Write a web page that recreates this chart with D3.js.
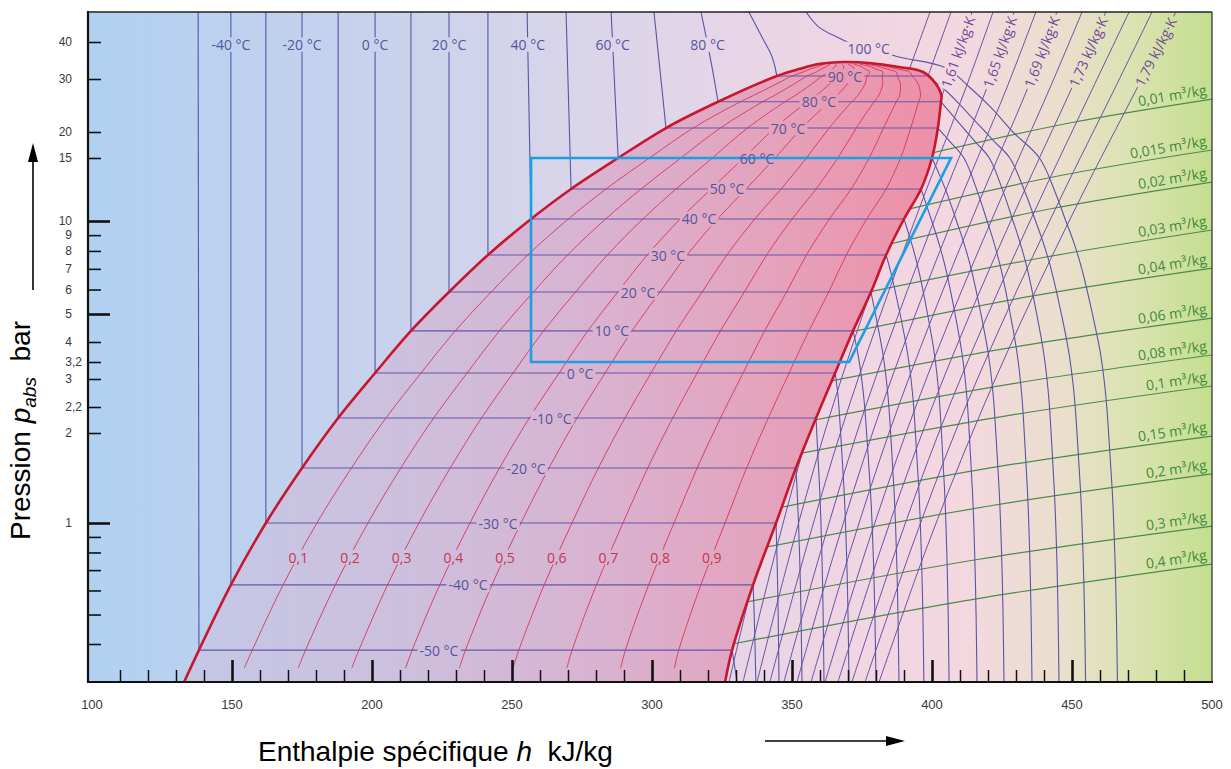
<!DOCTYPE html>
<html><head><meta charset="utf-8">
<script src="https://cdn.jsdelivr.net/npm/d3@7/dist/d3.min.js"></script>
<style>body{margin:0;background:#fff}svg{display:block}</style>
</head><body>
<svg id="chart" width="1231" height="769"></svg>
<script>
// ---------------- DATA ----------------
const enthalpyLabels = [100,150,200,250,300,350,400,450,500];
const enthalpyMajor = [150,200,250,300,350,400,450];
const pressureLabelTicks = [1,2,2.2,3,3.2,4,5,6,7,8,9,10,15,20,30,40];
const pressureLabelText = ["1","2","2,2","3","3,2","4","5","6","7","8","9","10","15","20","30","40"];
const pressureMinorTicks = [0.4,0.5,0.6,0.7,0.8,0.9];
const pressureMajorTicks = [1,5,10];

const satTemps = [-50,-40,-30,-20,-10,0,10,20,30,40,50,60,70,80,90];
const satPressure = [0.382,0.626,1.0,1.527,2.113,3.069,4.37,5.89,7.76,10.13,12.29,15.0,20.62,25.2,30.7];
const satLiquidH = [138.2,149.6,162.1,175.0,187.9,201.1,213.9,227.5,241.4,256.8,271.1,287.9,305.0,323.6,344.6];
const satVaporH = [328.6,336.1,344.3,351.4,358.6,365.4,371.8,378.2,383.6,390.0,396.1,400.0,402.1,403.2,397.9];
const domeLabelH = [223.9,234.3,245.0,255.0,264.3,274.3,285.7,295.0,305.7,316.8,326.8,337.5,348.6,359.6,368.9];

// liquid-side isotherm points above the saturated-liquid point [h, p]
const liquidIsothermUpper = [
 [[137.9,50]],[[149.6,50]],[[162.1,50]],[[175.0,50]],[[187.9,50]],[[201.1,50]],[[213.9,50]],
 [[227.5,50]],[[241.4,50]],[[255.4,50]],[[269.3,50]],[[285.4,50]],[[300.7,50]],
 [[317.5,50],[321.1,34.2]],
 [[334.6,50],[338.9,42.1],[342.9,35.6]]
];

// saturation dome [h, p]
const domeLiquid = [[132.9,0.3],[138.2,0.382],[149.6,0.626],[162.1,1.0],[175.0,1.527],[187.9,2.113],[201.1,3.069],[213.9,4.37],[227.5,5.89],[241.4,7.76],[256.8,10.13],[271.1,12.29],[287.9,15.0],[305.0,20.62],[323.6,25.2],[344.6,30.7],[352.5,32.4],[359.6,33.7]];
const criticalPoint = [368.6,34.24];
const domeVapor = [[326.1,0.3],[328.6,0.382],[336.1,0.626],[344.3,1.0],[351.4,1.527],[358.6,2.113],[365.4,3.069],[371.8,4.37],[378.2,5.89],[383.6,7.76],[390.0,10.13],[396.1,12.29],[400.0,15.0],[402.1,20.62],[403.2,25.2],[403.4,26.34],[401.4,28.87],[396.8,31.68],[388.2,32.93],[377.5,33.98]];

// superheated isotherms [T, [[h,p],...]]
const superheatIsotherms = [
 [-50,[[328.6,0.382],[330.4,0.3]]],
 [-40,[[336.1,0.626],[336.5,0.5],[337.1,0.3]]],
 [-30,[[344.3,1.0],[344.75,0.7],[345.06,0.5],[345.36,0.3]]],
 [-20,[[351.4,1.527],[351.8,1.3],[352.33,1.0],[352.86,0.7],[353.22,0.5],[353.57,0.3]]],
 [-10,[[358.6,2.113],[359.09,1.8],[359.87,1.3],[360.34,1.0],[360.81,0.7],[361.12,0.5],[361.43,0.3]]],
 [0,[[365.4,3.069],[366.42,2.5],[367.67,1.8],[368.57,1.3],[369.11,1.0],[369.65,0.7],[370.0,0.5],[370.36,0.3]]],
 [10,[[371.8,4.37],[373.55,3.5],[375.57,2.5],[376.98,1.8],[377.98,1.3],[378.59,1.0],[379.19,0.7],[379.59,0.5],[380.0,0.3]]],
 [20,[[378.2,5.89],[379.79,5],[382.48,3.5],[384.27,2.5],[385.52,1.8],[386.41,1.3],[386.95,1.0],[387.49,0.7],[387.85,0.5],[388.2,0.3]]],
 [30,[[383.6,7.76],[384.97,7],[388.6,5],[391.31,3.5],[393.12,2.5],[394.38,1.8],[395.29,1.3],[395.83,1.0],[396.37,0.7],[396.74,0.5],[397.1,0.3]]],
 [40,[[390.0,10.13],[392.67,8.5],[395.13,7],[398.41,5],[400.86,3.5],[402.5,2.5],[403.65,1.8],[404.47,1.3],[404.96,1.0],[405.45,0.7],[405.78,0.5],[406.1,0.3]]],
 [50,[[396.1,12.29],[399.91,10],[402.41,8.5],[404.91,7],[408.24,5],[410.74,3.5],[412.41,2.5],[413.57,1.8],[414.4,1.3],[414.9,1.0],[415.4,0.7],[415.74,0.5],[416.07,0.3]]],
 [60,[[400.0,15],[402.6,13.5],[405.25,12],[408.75,10],[411.37,8.5],[413.99,7],[417.49,5],[420.12,3.5],[421.87,2.5],[423.09,1.8],[423.97,1.3],[424.49,1.0],[425.02,0.7],[425.37,0.5],[425.71,0.3]]],
 [70,[[402.1,20.62],[406.43,18],[411.4,15],[416.36,12],[419.67,10],[422.15,8.5],[424.63,7],[427.94,5],[430.42,3.5],[432.07,2.5],[433.23,1.8],[434.06,1.3],[434.56,1.0],[435.05,0.7],[435.38,0.5],[435.71,0.3]]],
 [80,[[403.2,25.2],[408.62,22],[415.39,18],[420.47,15],[425.55,12],[428.94,10],[431.48,8.5],[434.02,7],[437.4,5],[439.94,3.5],[441.64,2.5],[442.82,1.8],[443.67,1.3],[444.18,1.0],[444.69,0.7],[445.02,0.5],[445.36,0.3]]],
 [90,[[397.9,30.7],[403.87,28],[409.39,25],[414.91,22],[422.27,18],[427.79,15],[433.31,12],[436.99,10],[439.76,8.5],[442.52,7],[446.2,5],[448.96,3.5],[450.8,2.5],[452.09,1.8],[453.01,1.3],[453.56,1.0],[454.11,0.7],[454.48,0.5],[454.85,0.3]]]
];
const supercriticalIsotherm = [[355.0,50],[359.6,44.7],[366.8,41.2],[372.1,39.07],[388.2,35.6],[405.0,32.68],[413.7,28],[421.3,24],[428.9,20],[438.4,15],[444.05,12],[447.8,10],[450.7,8.5],[453.5,7],[457.3,5],[460.2,3.5],[462.06,2.5],[463.39,1.8],[464.34,1.3],[464.9,1.0],[465.47,0.7],[465.85,0.5],[466.23,0.3]];

const topLabelTemps = [-40,-20,0,20,40,60,80,100];
const topLabelP = [39.2,39.2,39.2,39.2,39.2,39.2,39.2,37.9];

// quality lines
const qualityValues = [0.1,0.2,0.3,0.4,0.5,0.6,0.7,0.8,0.9];
const qualityLabels = ["0,1","0,2","0,3","0,4","0,5","0,6","0,7","0,8","0,9"];
const qualityLabelP = 0.773;
const qualityBottomP = 0.333;
const qualityTopP = 33.7;

// isentropes
const isentropeS = [1.57,1.59,1.61,1.63,1.65,1.67,1.69,1.71,1.73,1.75,1.77,1.79];
const isentropeP = [0.3,0.815,2.022,4.766,11.45,27.58,50];
const isentropeH = [
 [327.5,338.8,350.1,361.9,375.8,389.3,399.3],
 [332.5,344.3,356.0,368.3,382.8,396.8,406.8],
 [337.5,349.7,361.9,374.6,389.7,404.3,414.3],
 [342.1,354.9,367.6,380.9,396.6,411.8,421.8],
 [347.1,360.4,373.5,387.3,403.6,419.3,429.3],
 [351.8,365.4,379.1,393.3,410.1,426.4,437.1],
 [356.8,370.9,385.0,399.7,417.1,433.9,444.6],
 [361.8,376.4,391.1,406.3,424.4,441.8,453.6],
 [366.4,381.6,396.9,412.7,431.5,449.6,462.1],
 [371.4,387.1,402.8,419.1,438.5,457.1,470.4],
 [376.1,392.4,408.6,425.5,445.6,465.0,478.6],
 [381.1,397.8,414.8,432.1,452.7,472.9,487.1]
];
const isentropeLabelS = [1.61,1.65,1.69,1.73,1.79];
const isentropeLabelText = ["1,61 kJ/kg·K","1,65 kJ/kg·K","1,69 kJ/kg·K","1,73 kJ/kg·K","1,79 kJ/kg·K"];
const isentropeLabelP = 37;

// isochores
const isochoreText = ["0,01","0,015","0,02","0,03","0,04","0,06","0,08","0,1","0,15","0,2","0,3","0,4"];
const isochorePoints = [
 [[398.4,15.68],[450,21.51],[500,25.74]],
 [[390.1,10.73],[445.9,13.40],[500,16.39]],
 [[383.4,8.36],[442.5,10.82],[500,12.85]],
 [[375.9,5.85],[438.8,7.59],[500,9.35]],
 [[369.4,4.30],[435.5,5.71],[500,7.04]],
 [[361.9,2.90],[431.8,3.83],[500,4.84]],
 [[356.2,2.09],[428.9,2.85],[500,3.46]],
 [[351.6,1.70],[426.6,2.13],[500,2.776]],
 [[344.4,1.12],[423.0,1.54],[500,1.954]],
 [[339.1,0.827],[420.4,1.14],[500,1.459]],
 [[331.9,0.546],[416.8,0.760],[500,0.977]],
 [[326.9,0.397],[414.3,0.560],[500,0.733]]
];

// refrigeration cycle
const cycleH = [256.8,406.8,370.4,256.8];
const cycleP = [15,15,3.2,3.2];

// ---------------- LAYOUT ----------------
const W = 1231, H = 769;
const plotLeft = 88, plotRight = 1212, plotTop = 12, plotBottom = 682;
const FONT = "'Open Sans', 'Noto Sans', sans-serif";

const xScale = d3.scaleLinear().domain([100,500]).range([92,1212]);
const yScale = d3.scaleLog()
  .domain([0.3,1,2,2.2,3,3.2,4,5,10,15,20,30,40,50])
  .range([682,523,433,407,379,362,342,314,221,158,132,79,42,12]);

const svg = d3.select('#chart');
const defs = svg.append('defs');

function grad(id, x1, x2, stops){
  const g = defs.append('linearGradient').attr('id',id).attr('gradientUnits','userSpaceOnUse')
    .attr('x1',x1).attr('x2',x2).attr('y1',0).attr('y2',0);
  stops.forEach(s => g.append('stop').attr('offset',s[0]).attr('stop-color',s[1]));
}
grad('bgGrad', plotLeft, plotRight, [[0,'#b1d1f1'],[0.15,'#bed1ee'],[0.33,'#cfd3eb'],[0.5,'#dfd5e9'],[0.68,'#f0d5e3'],[0.78,'#f3d8e0'],[0.86,'#ebdece'],[0.93,'#dbe3b1'],[1,'#c3de8e']]);
grad('domeGrad', 185, 945, [[0,'#c3c8e6'],[0.3,'#cdbfdd'],[0.55,'#d9b2d0'],[0.8,'#e6a0b9'],[1,'#ee8ea6']]);

defs.append('clipPath').attr('id','plotClip').append('rect')
  .attr('x',plotLeft).attr('y',plotTop).attr('width',plotRight-plotLeft).attr('height',plotBottom-plotTop);

const toPx = d => [xScale(d[0]), yScale(d[1])];
const curve = d3.line().curve(d3.curveCatmullRom.alpha(0.5));
const straight = d3.line();

function hAt(branch, p){
  for (let i=0;i<branch.length-1;i++){
    const a=branch[i], b=branch[i+1];
    if (p>=a[1] && p<=b[1]){
      const t=(Math.log(p)-Math.log(a[1]))/(Math.log(b[1])-Math.log(a[1]));
      return a[0]+t*(b[0]-a[0]);
    }
  }
  return null;
}
function pointAtY(pts, y){
  for (let i=0;i<pts.length-1;i++){
    const a=pts[i], b=pts[i+1];
    if ((a[1]-y)*(b[1]-y) <= 0 && a[1]!==b[1]){
      const t=(y-a[1])/(b[1]-a[1]);
      return {x:a[0]+t*(b[0]-a[0]), y:y, angle:Math.atan2(b[1]-a[1], b[0]-a[0])*180/Math.PI};
    }
  }
  return null;
}

// background
svg.append('rect').attr('x',plotLeft).attr('y',plotTop).attr('width',plotRight-plotLeft)
  .attr('height',plotBottom-plotTop).attr('fill','url(#bgGrad)');

// dome fill
const domePts = [...domeLiquid, criticalPoint, ...domeVapor.slice().reverse()].map(toPx);
const domeD = curve(domePts);
svg.append('path').attr('d', domeD + 'Z').attr('fill','url(#domeGrad)').attr('clip-path','url(#plotClip)');

// superheat clip region (right of saturated vapour line)
const vapPx = [criticalPoint, ...domeVapor.slice().reverse()].map(toPx);
const cpx = toPx(criticalPoint);
const lastV = vapPx[vapPx.length-1];
defs.append('clipPath').attr('id','superClip').append('path')
  .attr('d', curve(vapPx) + `L${lastV[0]},${plotBottom+10}L${plotRight+10},${plotBottom+10}L${plotRight+10},${plotTop-10}L${cpx[0]},${plotTop-10}Z`);

// line layers
const linesG = svg.append('g').attr('clip-path','url(#plotClip)').append('g').attr('mask','url(#labelMask)');

// quality lines
const qp = Array.from(new Set([qualityBottomP, ...domeLiquid.map(d=>d[1]), ...domeVapor.map(d=>d[1]), qualityTopP]))
  .filter(p => p>=qualityBottomP && p<=qualityTopP).sort((a,b)=>a-b);
qualityValues.forEach(q => {
  const pts = qp.map(p => { const hl=hAt(domeLiquid,p), hv=hAt(domeVapor,p); return toPx([hl+q*(hv-hl), p]); });
  linesG.append('path').attr('d', curve(pts)).attr('fill','none').attr('stroke','#d2385a').attr('stroke-width',0.9);
});

const isoColor = '#5656a4';
satTemps.forEach((t,i) => {
  const upper = liquidIsothermUpper[i].map(toPx);
  const sl = toPx([satLiquidH[i], satPressure[i]]);
  const sv = toPx([satVaporH[i], satPressure[i]]);
  linesG.append('path').attr('d', curve([...upper, sl])).attr('fill','none').attr('stroke',isoColor).attr('stroke-width',1.1);
  linesG.append('path').attr('d', straight([sl, sv])).attr('fill','none').attr('stroke','#6657a6').attr('stroke-width',1.1);
});

const shG = linesG.append('g').attr('clip-path','url(#superClip)');
isochorePoints.forEach(pts => {
  shG.append('path').attr('d', curve(pts.map(toPx))).attr('fill','none').attr('stroke','#4c8a4c').attr('stroke-width',1.2);
});
isentropeH.forEach(row => {
  const pts = row.map((h,j) => toPx([h, isentropeP[j]]));
  shG.append('path').attr('d', curve(pts)).attr('fill','none').attr('stroke','#6a52a2').attr('stroke-width',1);
});
superheatIsotherms.forEach(([t, pts]) => {
  shG.append('path').attr('d', curve(pts.map(toPx))).attr('fill','none').attr('stroke',isoColor).attr('stroke-width',1.1);
});
const superPx = supercriticalIsotherm.map(toPx);
linesG.append('path').attr('d', curve(superPx)).attr('fill','none').attr('stroke',isoColor).attr('stroke-width',1.1);

// dome outline
svg.append('path').attr('d', domeD).attr('fill','none').attr('stroke','#c8162f').attr('stroke-width',2.6)
  .attr('clip-path','url(#plotClip)');

// cycle
svg.append('path').attr('d', straight(cycleH.map((h,i)=>toPx([h,cycleP[i]]))) + 'Z')
  .attr('fill','none').attr('stroke','#1c9fe2').attr('stroke-width',2.6).attr('stroke-linejoin','miter');

// ---------------- LABELS ----------------
const labelsG = svg.append('g').attr('font-family',FONT).attr('font-size',14);
function addLabel(x,y,text,color,angle,anchor){
  return labelsG.append('text').attr('class','lbl')
    .attr('transform',`translate(${x},${y})` + (angle ? ` rotate(${angle})` : ''))
    .attr('text-anchor', anchor || 'middle').attr('dominant-baseline','central')
    .attr('fill',color).text(text);
}
const isoLabelColor = '#55559c';
satTemps.forEach((t,i) => addLabel(xScale(domeLabelH[i]), yScale(satPressure[i]), `${t} °C`, isoLabelColor));
topLabelTemps.forEach((t,k) => {
  let pts;
  if (t === 100) pts = superPx;
  else { const i = satTemps.indexOf(t); pts = [...liquidIsothermUpper[i], [satLiquidH[i], satPressure[i]]].map(toPx); }
  const pt = pointAtY(pts, yScale(topLabelP[k]));
  addLabel(pt.x, pt.y, `${t} °C`, isoLabelColor);
});
qualityValues.forEach((q,k) => {
  const hl = hAt(domeLiquid, qualityLabelP), hv = hAt(domeVapor, qualityLabelP);
  addLabel(xScale(hl + q*(hv-hl)), yScale(qualityLabelP), qualityLabels[k], '#c8354f');
});
isentropeLabelS.forEach((s,k) => {
  const row = isentropeH[isentropeS.indexOf(s)];
  const pts = row.map((h,j) => toPx([h, isentropeP[j]]));
  const pt = pointAtY(pts, yScale(isentropeLabelP));
  addLabel(pt.x, pt.y, isentropeLabelText[k], '#74479a', pt.angle);
});
isochorePoints.forEach((row,k) => {
  const pts = row.map(toPx);
  const a = pts[1], b = pts[2];
  const x = plotRight - 4;
  const y = a[1] + (x - a[0]) * (b[1]-a[1]) / (b[0]-a[0]);
  const ang = Math.atan2(b[1]-a[1], b[0]-a[0]) * 180 / Math.PI;
  labelsG.append('text').attr('class','lbl')
    .attr('transform',`translate(${x},${y}) rotate(${ang})`)
    .attr('text-anchor','end').attr('dy',-5).attr('fill','#3f8a3c').text(`${isochoreText[k]} m³/kg`);
});

// mask for line gaps behind labels
const mask = defs.append('mask').attr('id','labelMask').attr('maskUnits','userSpaceOnUse')
  .attr('x',0).attr('y',0).attr('width',W).attr('height',H);
mask.append('rect').attr('x',0).attr('y',0).attr('width',W).attr('height',H).attr('fill','white');
labelsG.selectAll('text.lbl').each(function(){
  const b = this.getBBox();
  mask.append('rect').attr('x',b.x-2).attr('y',b.y+b.height*0.12).attr('width',b.width+4).attr('height',b.height*0.76)
    .attr('transform', d3.select(this).attr('transform')).attr('fill','black');
});

// ---------------- AXES ----------------
function styleAxis(g, w){ g.select('.domain').remove(); g.selectAll('line').attr('stroke','#111').attr('stroke-width',w); }
const yMinorVals = [...pressureMinorTicks, ...pressureLabelTicks.filter(v => !pressureMajorTicks.includes(v))];
svg.append('g').attr('transform',`translate(${plotLeft},0)`)
  .call(d3.axisLeft(yScale).tickValues(yMinorVals).tickSize(-13).tickFormat(''))
  .call(g => styleAxis(g,1.6));
svg.append('g').attr('transform',`translate(${plotLeft},0)`)
  .call(d3.axisLeft(yScale).tickValues(pressureMajorTicks).tickSize(-22).tickFormat(''))
  .call(g => styleAxis(g,2.6));
const xMinor = d3.range(110,500,10).filter(v => v % 50 !== 0);
svg.append('g').attr('transform',`translate(0,${plotBottom})`)
  .call(d3.axisBottom(xScale).tickValues(xMinor).tickSize(-12).tickFormat(''))
  .call(g => styleAxis(g,1.5));
svg.append('g').attr('transform',`translate(0,${plotBottom})`)
  .call(d3.axisBottom(xScale).tickValues(enthalpyMajor).tickSize(-22).tickFormat(''))
  .call(g => styleAxis(g,2.6));

// frame
svg.append('line').attr('x1',plotLeft).attr('x2',plotRight).attr('y1',plotTop).attr('y2',plotTop).attr('stroke','#222').attr('stroke-width',1.4);
svg.append('line').attr('x1',plotRight).attr('x2',plotRight).attr('y1',plotTop).attr('y2',plotBottom).attr('stroke','#444').attr('stroke-width',1.4);
svg.append('line').attr('x1',plotLeft).attr('x2',plotLeft).attr('y1',plotTop-1).attr('y2',plotBottom+1).attr('stroke','#111').attr('stroke-width',2.2);
svg.append('line').attr('x1',plotLeft-1).attr('x2',plotRight+1).attr('y1',plotBottom).attr('y2',plotBottom).attr('stroke','#111').attr('stroke-width',2.2);

// tick labels
const tickFont = "'Liberation Sans', Arial, sans-serif";
const tickG = svg.append('g').attr('font-family',tickFont).attr('font-size',12).attr('fill','#3a3a3a');
pressureLabelTicks.forEach((v,k) => {
  const parts = pressureLabelText[k].split(',');
  const y = yScale(v);
  tickG.append('text').attr('x',72).attr('y',y).attr('text-anchor','end').attr('dominant-baseline','central').text(parts[0]);
  if (parts[1]) tickG.append('text').attr('x',72).attr('y',y).attr('text-anchor','start').attr('dominant-baseline','central').text(',' + parts[1]);
});
enthalpyLabels.forEach(v => {
  tickG.append('text').attr('x',xScale(v)).attr('y',709).attr('font-size',13).attr('text-anchor','middle').text(v);
});

// axis titles
const titleFont = "'Liberation Sans', Arial, sans-serif";
const xt = svg.append('text').attr('x',258).attr('y',761).attr('font-family',titleFont).attr('font-size',28).attr('fill','#000');
xt.append('tspan').text('Enthalpie spécifique ');
xt.append('tspan').attr('font-style','italic').text('h');
xt.append('tspan').text('\u00a0 kJ/kg');

const yt = svg.append('text').attr('transform','translate(30,540) rotate(-90)').attr('font-family',titleFont).attr('font-size',28).attr('fill','#000');
yt.append('tspan').text('Pression ');
yt.append('tspan').attr('font-style','italic').text('p');
yt.append('tspan').attr('font-style','italic').attr('font-size',19).attr('dy',6).text('abs');
yt.append('tspan').attr('dy',-6).text('\u00a0 bar');

// arrows
svg.append('line').attr('x1',33).attr('x2',33).attr('y1',290).attr('y2',158).attr('stroke','#000').attr('stroke-width',1.6);
svg.append('path').attr('d','M33,143L28,162L38,162Z').attr('fill','#000');
svg.append('line').attr('x1',765).attr('x2',890).attr('y1',741).attr('y2',741).attr('stroke','#000').attr('stroke-width',1.6);
svg.append('path').attr('d','M905,741L886,736L886,746Z').attr('fill','#000');
</script>
</body></html>
